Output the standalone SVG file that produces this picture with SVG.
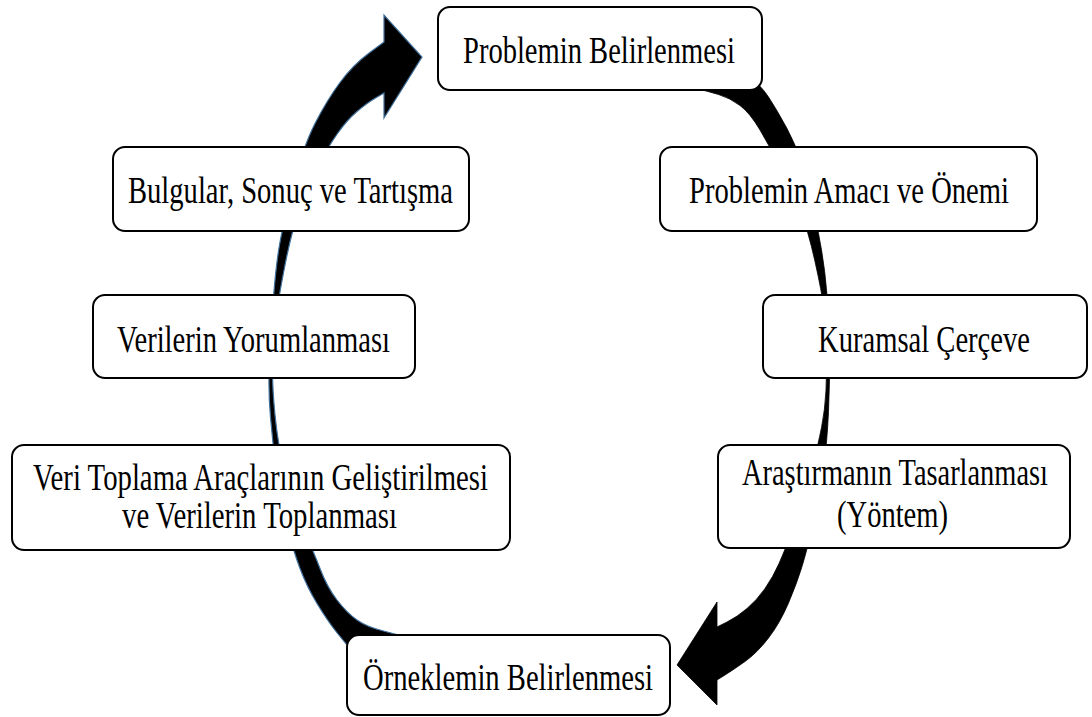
<svg xmlns="http://www.w3.org/2000/svg" width="1092" height="717" viewBox="0 0 1092 717">
<style>
.box{fill:#fff;stroke:#000;stroke-width:2}
.t{font-family:"Liberation Serif","Times New Roman",serif;font-size:28.5px;fill:#000}
.arrL{fill:#000;stroke:#41719c;stroke-width:1.2}
.arrR{fill:#000;stroke:#000;stroke-width:0.8}
</style>
<rect width="1092" height="717" fill="#fff"/>
<g id="connectors">
<path class="arrL" d="M365,665 L355,654 Q345,643 336,631.5 Q327,620 317,603.5 Q307,587 300,568.5 Q293,550 286,522.5 Q279,495 276,470 Q273,445 270.5,417.5 Q268,390 269.5,360 Q271,330 273.5,297.5 Q276,265 279.5,245 Q283,225 293,186 Q303,147 315,123.5 Q327,100 340,82.5 Q353,65 368.5,53.5 L384,42 L384,15 L422,57 L384,118 L384,93 L375.5,98 Q367,103 357,111.5 Q347,120 337.5,133.5 Q328,147 318,166 Q308,185 300,207.5 Q292,230 285.5,262.5 Q279,295 276,317.5 Q273,340 272.5,362.5 Q272,385 275,415 Q278,445 285,475 Q292,505 302.5,527.5 Q313,550 320,568.5 Q327,587 337,600 Q347,613 357,620 Q367,627 383.5,631 Q400,635 415,640 L430,645 L380,670 Z"/>
<path class="arrR" d="M735,68 L747.5,76 Q760,84 768.5,97 Q777,110 787,128.5 Q797,147 803.5,168.5 Q810,190 814,210 Q818,230 821.5,250 Q825,270 827,295 Q829,320 829.5,349 Q830,378 828.5,411.5 Q827,445 823,472.5 Q819,500 813,525 Q807,550 802,566.5 Q797,583 788.5,603 Q780,623 768.5,638 Q757,653 745,661.5 Q733,670 725,675 L717,680 L717,705 L677,665 L717,602 L717,627 L727,622 Q737,617 747,608.5 Q757,600 765,588.5 Q773,577 779,563.5 Q785,550 795,523.5 Q805,497 811.5,471 Q818,445 821.5,427.5 Q825,410 826,390 Q827,370 826,345 Q825,320 823.5,306.5 Q822,293 815,261.5 Q808,230 800,210 Q792,190 781,168.5 Q770,147 760,130 Q750,113 740,105.5 Q730,98 718.5,94.5 Q707,91 696,88.5 L685,86 L700,60 Z"/>
</g>
<g id="n1"><rect class="box" x="438" y="7" width="324" height="83" rx="12"/><text class="t" transform="translate(463,63) scale(1,1.36)" textLength="272" lengthAdjust="spacingAndGlyphs">Problemin Belirlenmesi</text></g>
<g id="n2"><rect class="box" x="660" y="147" width="377" height="84" rx="12"/><text class="t" transform="translate(689,203) scale(1,1.36)" textLength="320" lengthAdjust="spacingAndGlyphs">Problemin Amacı ve Önemi</text></g>
<g id="n3"><rect class="box" x="763" y="295" width="324" height="83" rx="12"/><text class="t" transform="translate(818,352) scale(1,1.36)" textLength="212" lengthAdjust="spacingAndGlyphs">Kuramsal Çerçeve</text></g>
<g id="n4"><rect class="box" x="718" y="445" width="352" height="103" rx="12"/><text class="t" transform="translate(742,485) scale(1,1.36)" textLength="306" lengthAdjust="spacingAndGlyphs">Araştırmanın Tasarlanması</text><text class="t" transform="translate(837,527) scale(1,1.36)" textLength="111" lengthAdjust="spacingAndGlyphs">(Yöntem)</text></g>
<g id="n5"><rect class="box" x="347" y="635" width="323" height="80" rx="12"/><text class="t" transform="translate(363,690) scale(1,1.36)" textLength="290" lengthAdjust="spacingAndGlyphs">Örneklemin Belirlenmesi</text></g>
<g id="n6"><rect class="box" x="12" y="445" width="498" height="105" rx="12"/><text class="t" transform="translate(33,490) scale(1,1.36)" textLength="455" lengthAdjust="spacingAndGlyphs">Veri Toplama Araçlarının Geliştirilmesi</text><text class="t" transform="translate(122,528) scale(1,1.36)" textLength="275" lengthAdjust="spacingAndGlyphs">ve Verilerin Toplanması</text></g>
<g id="n7"><rect class="box" x="93" y="295" width="322" height="83" rx="12"/><text class="t" transform="translate(117,352) scale(1,1.36)" textLength="273" lengthAdjust="spacingAndGlyphs">Verilerin Yorumlanması</text></g>
<g id="n8"><rect class="box" x="113" y="147" width="356" height="84" rx="12"/><text class="t" transform="translate(128,203) scale(1,1.36)" textLength="325" lengthAdjust="spacingAndGlyphs">Bulgular, Sonuç ve Tartışma</text></g>
</svg>
